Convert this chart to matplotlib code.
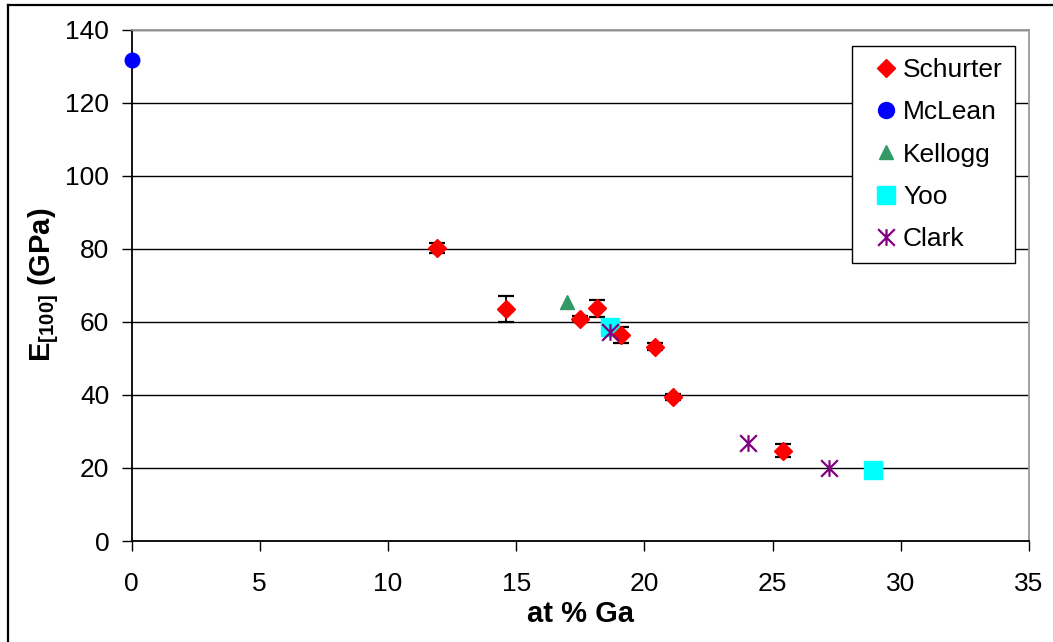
import matplotlib
matplotlib.use("Agg")
import matplotlib.pyplot as plt
from matplotlib.lines import Line2D
from matplotlib.path import Path
import numpy as np

plt.rcParams["font.family"] = ["Liberation Sans", "DejaVu Sans"]
plt.rcParams["mathtext.fontset"] = "custom"
plt.rcParams["mathtext.rm"] = "Liberation Sans:bold"
plt.rcParams["mathtext.bf"] = "Liberation Sans:bold"
plt.rcParams["mathtext.default"] = "bf"

# Schurter measurements with error bars
schurter_x = [11.9, 14.6, 17.5, 18.15, 19.1, 20.4, 21.1, 25.4]
schurter_y = [80.2, 63.5, 60.8, 63.7, 56.5, 53.2, 39.4, 24.7]
schurter_err = [1.5, 3.6, 0.8, 2.3, 2.2, 0.9, 0.9, 1.8]

mclean_x = [0.0]
mclean_y = [131.7]

kellogg_x = [16.97]
kellogg_y = [65.4]

yoo_x = [18.67, 28.9]
yoo_y = [58.7, 19.5]

clark_x = [18.67, 24.05, 27.2]
clark_y = [57.1, 26.9, 20.0]

x_ticks = [0, 5, 10, 15, 20, 25, 30, 35]
y_ticks = [0, 20, 40, 60, 80, 100, 120, 140]

# asterisk like marker: an x with a vertical bar through it
star = Path([(-1, -1), (1, 1), (-1, 1), (1, -1), (0, -1), (0, 1)],
            [Path.MOVETO, Path.LINETO, Path.MOVETO, Path.LINETO, Path.MOVETO, Path.LINETO])

fig = plt.figure(figsize=(10.53, 6.42), dpi=100)
ax = fig.add_axes([0.1249, 0.1573, 0.8523, 0.7967])

ax.errorbar(schurter_x, schurter_y, yerr=schurter_err, fmt="D", color="#FF0000",
            markersize=8.8, ecolor="black", elinewidth=1.3, capsize=6, capthick=1.6,
            zorder=3)
ax.plot(mclean_x, mclean_y, "o", color="#0000FF", markersize=10.5, zorder=3, clip_on=False)
ax.plot(kellogg_x, kellogg_y, "^", color="#339966", markersize=10, zorder=3)
ax.plot(yoo_x, yoo_y, "s", color="#00FFFF", markersize=13, zorder=3)
ax.plot(clark_x, clark_y, linestyle="none", marker=star, markersize=12,
        markerfacecolor="none", markeredgecolor="#800080", markeredgewidth=1.6, zorder=4)

ax.set_xlim(0, 35)
ax.set_ylim(0, 140)
ax.set_xticks(x_ticks)
ax.set_yticks(y_ticks)
ax.tick_params(axis="both", labelsize=19, direction="out", length=7, width=1, color="black")
ax.tick_params(axis="x", pad=15)
ax.tick_params(axis="y", pad=9)

ax.yaxis.grid(True, color="black", linewidth=1)
ax.set_axisbelow(True)

ax.spines["left"].set_color("black")
ax.spines["bottom"].set_color("black")
ax.spines["top"].set_color("#999999")
ax.spines["right"].set_color("#999999")
for s in ax.spines.values():
    s.set_linewidth(1.3)

ax.set_xlabel("at % Ga", fontsize=21, fontweight="bold", labelpad=3)
ax.set_ylabel("E$_{[100]}$ (GPa)", fontsize=21, fontweight="bold", labelpad=3)

# legend keys show only the markers
handles = [
    Line2D([], [], linestyle="none", marker="D", color="#FF0000", markersize=9),
    Line2D([], [], linestyle="none", marker="o", color="#0000FF", markersize=11.5),
    Line2D([], [], linestyle="none", marker="^", color="#339966", markersize=10),
    Line2D([], [], linestyle="none", marker="s", color="#00FFFF", markersize=12.5),
    Line2D([], [], linestyle="none", marker=star, markersize=12, markerfacecolor="none",
           markeredgecolor="#800080", markeredgewidth=1.6),
]
labels = ["Schurter", "McLean", "Kellogg", "Yoo", "Clark"]
leg = ax.legend(handles, labels, loc="upper right", bbox_to_anchor=(0.984, 0.967), fontsize=19,
                frameon=True, fancybox=False, edgecolor="black", framealpha=1,
                handlelength=1.7, handletextpad=-0.2, labelspacing=0.69,
                borderpad=0.45, borderaxespad=0, numpoints=1)
leg.get_frame().set_linewidth(1.0)

# outer chart border along left and top edges
fig.add_artist(Line2D([0.0072, 0.0072], [0, 0.9922], color="black", linewidth=1.6,
                      transform=fig.transFigure))
fig.add_artist(Line2D([0.0072, 1], [0.9922, 0.9922], color="black", linewidth=1.6,
                      transform=fig.transFigure))

fig.savefig("out.png", dpi=100)
